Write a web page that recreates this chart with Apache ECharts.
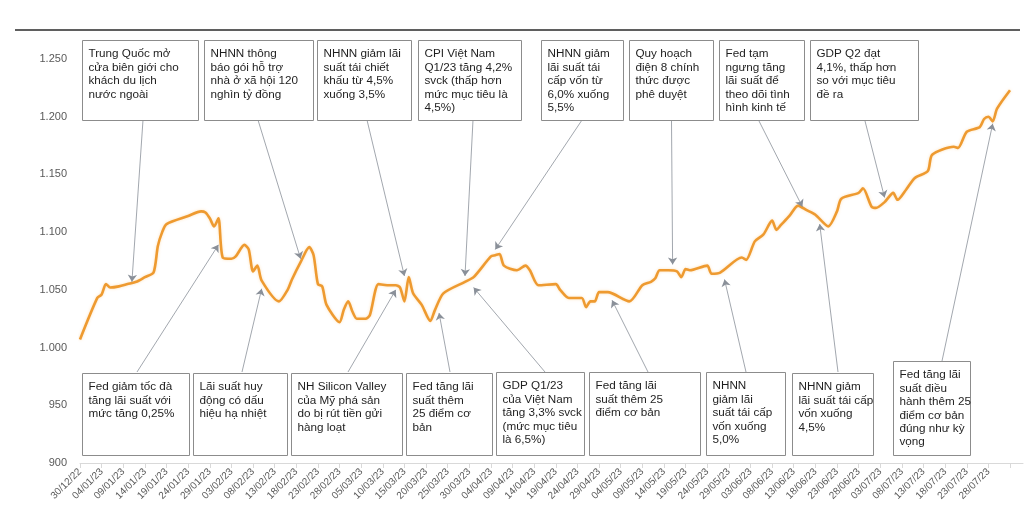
<!DOCTYPE html>
<html><head><meta charset="utf-8">
<script src="https://cdn.jsdelivr.net/npm/echarts@6/dist/echarts.min.js"></script>
<style>html,body{margin:0;padding:0;background:#fff}#c{width:1030px;height:521px}</style>
</head><body><div id="c"></div>
<script>
// ---- data ----
const dates = ['30/12/22','03/01/23','04/01/23','05/01/23','06/01/23','08/01/23','10/01/23','12/01/23','14/01/23','16/01/23','17/01/23','18/01/23','19/01/23','24/01/23','27/01/23','28/01/23','29/01/23','30/01/23','31/01/23',
'01/02/23','03/02/23','04/02/23','06/02/23','07/02/23','08/02/23','09/02/23','10/02/23','14/02/23','16/02/23','17/02/23','19/02/23','21/02/23','22/02/23','23/02/23','24/02/23','25/02/23','28/02/23',
'01/03/23','02/03/23','03/03/23','04/03/23','06/03/23','07/03/23','09/03/23','11/03/23','13/03/23','14/03/23','15/03/23','16/03/23','17/03/23','19/03/23','21/03/23','22/03/23','24/03/23','29/03/23','31/03/23',
'04/04/23','05/04/23','06/04/23','07/04/23','10/04/23','12/04/23','13/04/23','15/04/23','19/04/23','20/04/23','22/04/23','25/04/23','26/04/23','27/04/23','28/04/23','29/04/23',
'01/05/23','06/05/23','09/05/23','11/05/23','12/05/23','13/05/23','15/05/23','17/05/23','18/05/23','19/05/23','20/05/23','24/05/23','25/05/23','27/05/23',
'01/06/23','02/06/23','04/06/23','06/06/23','08/06/23','09/06/23','10/06/23','12/06/23','14/06/23','16/06/23','18/06/23','21/06/23','23/06/23','24/06/23','28/06/23','29/06/23',
'01/07/23','02/07/23','04/07/23','06/07/23','07/07/23','09/07/23','11/07/23','14/07/23','15/07/23','20/07/23','21/07/23','23/07/23','26/07/23','27/07/23','28/07/23','29/07/23','30/07/23','02/08/23'];
const values = [1007,1043,1046,1055,1052,1053,1055,1057,1061,1065,1088,1100,1107,1114,1118,1117,1112,1105,1112,
1078,1077,1079,1089,1085,1066,1071,1058,1040,1050,1059,1074,1087,1080,1055,1053,1037,1022,
1033,1040,1031,1025,1025,1028,1055,1054,1054,1052,1040,1061,1047,1037,1023,1032,1047,1057,1061,
1079,1080,1081,1071,1067,1071,1067,1054,1055,1050,1043,1043,1035,1040,1040,1048,
1048,1040,1054,1057,1060,1067,1067,1066,1061,1068,1067,1071,1064,1065,
1078,1076,1092,1098,1110,1102,1106,1114,1123,1119,1115,1105,1118,1129,1134,1138,
1122,1121,1126,1134,1128,1137,1147,1153,1167,1174,1173,1187,1191,1198,1200,1196,1207,1223];

const xTickLabels = ['30/12/22','04/01/23','09/01/23','14/01/23','19/01/23','24/01/23','29/01/23','03/02/23','08/02/23','13/02/23','18/02/23','23/02/23','28/02/23','05/03/23','10/03/23','15/03/23','20/03/23','25/03/23','30/03/23','04/04/23','09/04/23','14/04/23','19/04/23','24/04/23','29/04/23','04/05/23','09/05/23','14/05/23','19/05/23','24/05/23','29/05/23','03/06/23','08/06/23','13/06/23','18/06/23','23/06/23','28/06/23','03/07/23','08/07/23','13/07/23','18/07/23','23/07/23','28/07/23'];
const yTickLabels = ['900','950','1.000','1.050','1.100','1.150','1.200','1.250'];

const topNotes = [
 'Trung Quốc mở\ncửa biên giới cho\nkhách du lịch\nnước ngoài',
 'NHNN thông\nbáo gói hỗ trợ\nnhà ở xã hội 120\nnghìn tỷ đồng',
 'NHNN giảm lãi\nsuất tái chiết\nkhấu từ 4,5%\nxuống 3,5%',
 'CPI Việt Nam\nQ1/23 tăng 4,2%\nsvck (thấp hơn\nmức mục tiêu là\n4,5%)',
 'NHNN giảm\nlãi suất tái\ncấp vốn từ\n6,0% xuống\n5,5%',
 'Quy hoạch\nđiện 8 chính\nthức được\nphê duyệt',
 'Fed tạm\nngưng tăng\nlãi suất để\ntheo dõi tình\nhình kinh tế',
 'GDP Q2 đạt\n4,1%, thấp hơn\nso với mục tiêu\nđề ra'];
const topNoteDates = ['11/01/23','19/02/23','15/03/23','29/03/23','05/04/23','16/05/23','15/06/23','04/07/23'];
const topNoteValues = [1057,1077,1062,1062,1085,1072,1122,1130];

const bottomNotes = [
 'Fed giảm tốc đà\ntăng lãi suất với\nmức tăng 0,25%',
 'Lãi suất huy\nđộng có dấu\nhiệu hạ nhiệt',
 'NH Silicon Valley\ncủa Mỹ phá sản\ndo bị rút tiền gửi\nhàng loạt',
 'Fed tăng lãi\nsuất thêm\n25 điểm cơ\nbản',
 'GDP Q1/23\ncủa Việt Nam\ntăng 3,3% svck\n(mức mục tiêu\nlà 6,5%)',
 'Fed tăng lãi\nsuất thêm 25\nđiểm cơ bản',
 'NHNN\ngiảm lãi\nsuất tái cấp\nvốn xuống\n5,0%',
 'NHNN giảm\nlãi suất tái cấp\nvốn xuống\n4,5%',
 'Fed tăng lãi\nsuất điều\nhành thêm 25\nđiểm cơ bản\nđúng như kỳ\nvọng'];
const bottomNoteDates = ['31/01/23','10/02/23','13/03/23','23/03/23','31/03/23','02/05/23','28/05/23','19/06/23','29/07/23'];
const bottomNoteValues = [1089,1051,1050,1030,1052,1041,1059,1107,1194];

// ---- layout (pixels) ----
const topBoxX = [[82,198],[204,313],[317,411],[418,521],[541,623],[629,713],[719,804],[810,918]];
const topBoxY = [40,120];
const topArrowStart = [[143,120],[258,120],[367,120],[473,120],[582,120],[671.5,121],[759,121],[865,121]];
const bottomBox = [[82,189,373],[193,287,373],[291,402,373],[406,492,373],[496,584,372],[589,700,372],[706,785,372],[792,873,373],[893,970,361]];
const bottomBoxBottom = 455;
const bottomArrowStart = [[137,372],[242,372],[348,372],[450,372],[545,372],[648,372],[746,372],[838,372],[942,361]];

function dayOf(s){const p=s.split('/').map(Number);return (Date.UTC(2000+p[2],p[1]-1,p[0])-Date.UTC(2022,11,30))/864e5;}

const graphics = [{type:'line',shape:{x1:15,y1:30,x2:1020,y2:30},style:{stroke:'#5f5f5f',lineWidth:2}}];
function addBox(x0,x1,y0,y1,text){
  graphics.push({type:'rect',z:50,shape:{x:x0+0.5,y:y0+0.5,width:x1-x0,height:y1-y0},style:{fill:'#fff',stroke:'#8c8c8c',lineWidth:1}});
  graphics.push({type:'text',z:51,x:x0+6.5,y:y0+7.5,style:{text:text,fontSize:11.7,fontFamily:'Liberation Sans, Arial, sans-serif',fill:'#1e1e1e',lineHeight:13.4,verticalAlign:'top',align:'left'}});
}
topBoxX.forEach((b,i)=>addBox(b[0],b[1],topBoxY[0],topBoxY[1],topNotes[i]));
bottomBox.forEach((b,i)=>addBox(b[0],b[1],b[2],bottomBoxBottom,bottomNotes[i]));

const arrows = [];
topNoteDates.forEach((d,i)=>arrows.push([{x:topArrowStart[i][0],y:topArrowStart[i][1]},{coord:[dayOf(d),topNoteValues[i]]}]));
bottomNoteDates.forEach((d,i)=>arrows.push([{x:bottomArrowStart[i][0],y:bottomArrowStart[i][1]},{coord:[dayOf(d),bottomNoteValues[i]]}]));

const chart = echarts.init(document.getElementById('c'));
chart.setOption({
  animation:false,
  backgroundColor:'#fff',
  grid:{left:80,right:7,top:59,bottom:58,containLabel:false},
  xAxis:{type:'value',min:0,max:218,interval:5,
    axisLine:{lineStyle:{color:'#d9d9d9',width:1}},
    axisTick:{show:true,length:5,lineStyle:{color:'#d9d9d9'}},
    splitLine:{show:false},
    axisLabel:{rotate:45,fontSize:10,color:'#595959',fontFamily:'Liberation Sans, Arial, sans-serif',margin:7,
      showMaxLabel:false,
      formatter:v=>{const k=Math.round(v/5);return (v%5===0&&k<xTickLabels.length)?xTickLabels[k]:'';}}},
  yAxis:{type:'value',min:900,max:1250,interval:50,
    axisLine:{show:false},axisTick:{show:false},splitLine:{show:false},
    axisLabel:{fontSize:11,color:'#595959',fontFamily:'Liberation Sans, Arial, sans-serif',margin:13,
      formatter:v=>yTickLabels[Math.round((v-900)/50)]}},
  graphic:graphics,
  series:[{type:'line',data:dates.map((d,i)=>[dayOf(d),values[i]]),showSymbol:false,smooth:0.25,
    lineStyle:{color:'#EE9A30',width:2.6,shadowBlur:3,shadowColor:'rgba(245,170,60,0.35)'},
    itemStyle:{color:'#EE9A30'},
    markLine:{silent:true,animation:false,symbol:['none','arrow'],symbolSize:7,
      label:{show:false},emphasis:{disabled:true},
      lineStyle:{color:'#8a9099',width:0.8,type:'solid'},
      data:arrows}}]
});
</script></body></html>
